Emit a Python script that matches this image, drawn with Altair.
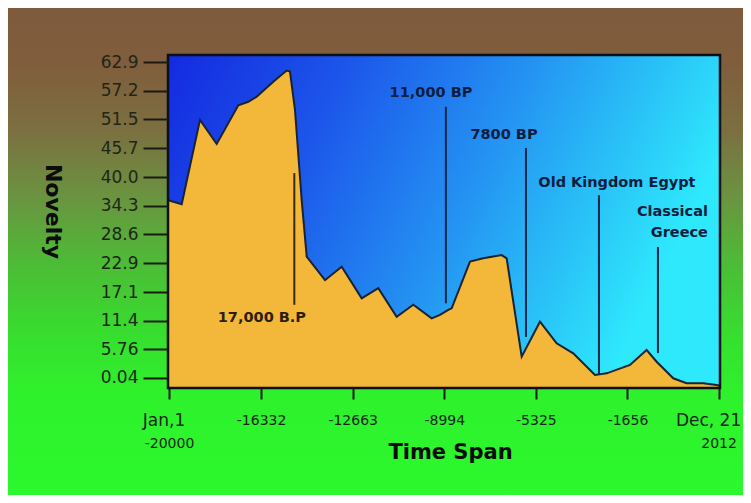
import altair as alt
import pandas as pd

# ---------------- data ----------------
years = [-20050, -19511, -18778, -18110, -17244, -16844, -16508, -15843, -15306,
         -15174, -14974, -14705, -14505, -13772, -13103, -12302, -11637, -10901,
         -10236, -9499, -9166, -8834, -8698, -7965, -7432, -6696, -6495, -5894,
         -5162, -4493, -3828, -2959, -2490, -1557, -889, -488, 178, 713, 1379,
         1915, 2045]
novelty = [35.4, 34.6, 51.4, 46.6, 54.3, 55.0, 56.0, 59.0, 61.2,
           61.0, 53.4, 35.4, 24.2, 19.5, 22.2, 15.9, 17.9, 12.2,
           14.6, 11.9, 12.6, 13.6, 13.9, 23.2, 23.85, 24.5, 23.85, 4.28,
           11.24, 6.94, 4.95, 0.64, 0.97, 2.63, 5.61, 3.28, -0.02, -1.0, -1.0,
           -1.35, -1.5]

x_ticks = [-20000, -16332, -12663, -8994, -5325, -1656, 2012]
x_tick_top = ["Jan,1", "-16332", "-12663", "-8994", "-5325", "-1656", "Dec, 21"]
x_tick_second = ["-20000", "", "", "", "", "", "2012"]

y_ticks = [0.04, 5.76, 11.4, 17.1, 22.9, 28.6, 34.3, 40.0, 45.7, 51.5, 57.2, 62.9]
y_tick_labels = ["0.04", "5.76", "11.4", "17.1", "22.9", "28.6", "34.3", "40.0",
                 "45.7", "51.5", "57.2", "62.9"]

rule_x = [-15000, -8930, -5722, -2799, -436]
rule_top = [40.8, 54.0, 45.8, 36.4, 26.1]
rule_bottom = [14.6, 14.9, 8.2, 0.64, 5.0]
rule_color = ["#3a2a12", "#10264a", "#10264a", "#10264a", "#10264a"]

ann_text = ["17,000 B.P", "11,000 BP", "7800 BP", "Old Kingdom Egypt", "Classical", "Greece"]
ann_x = [-16300, -9527, -6603, -2078, 1567, 1567]
ann_y = [12.0, 56.7, 48.4, 38.8, 33.06, 28.9]
ann_align = ["center", "center", "center", "center", "right", "right"]
ann_color = ["#2a1e0c", "#0c1d40", "#0c1d40", "#0c1d40", "#0c1d40", "#0c1d40"]

X_DOMAIN = [-20060, 2050]
Y_DOMAIN = [-1.95, 64.3]
W, H = 552, 333
PAD = {"left": 160, "top": 47, "right": 23, "bottom": 107}

# ---------------- tables ----------------
curve = pd.DataFrame({"year": years, "novelty": novelty})
rules = pd.DataFrame({"year": rule_x, "novelty": rule_top, "bottom": rule_bottom, "c": rule_color})
anns = pd.DataFrame({"year": ann_x, "novelty": ann_y, "t": ann_text, "a": ann_align, "c": ann_color})
second = pd.DataFrame({"year": x_ticks, "t": x_tick_second})
second = second[second["t"] != ""].reset_index(drop=True)

def chain(vals, labels, default):
    expr = default
    for v, l in reversed(list(zip(vals, labels))):
        expr = f"abs(datum.value - ({v})) < 1e-6 ? '{l}' : " + expr
    return expr

x_label_expr = chain(x_ticks, x_tick_top, "''")
y_label_expr = chain(y_ticks, y_tick_labels, "''")

xscale = alt.Scale(domain=X_DOMAIN, nice=False, zero=False)
yscale = alt.Scale(domain=Y_DOMAIN, nice=False, zero=False)

first_x, last_x = x_ticks[0], x_ticks[-1]
xaxis = alt.Axis(
    values=x_ticks, labelExpr=x_label_expr, title="Time Span", zindex=2,
    tickSize=11, tickWidth=2, tickColor="#1a1a14", domain=False, grid=False,
    labelFont="DejaVu Sans", labelColor="#17261a",
    labelFontSize={"condition": {"test": f"datum.value == {first_x} || datum.value == {last_x}", "value": 17}, "value": 14},
    labelOffset={"condition": [
        {"test": f"datum.value == {first_x}", "value": -6},
        {"test": f"datum.value == {last_x}", "value": -11},
    ], "value": 0},
    labelBaseline="middle", labelPadding=21, labelFlush=False, labelOverlap=False,
    titleFont="DejaVu Sans", titleFontWeight="bold", titleFontSize=21, titleColor="#0c0c0c",
    titleX=282, titleY=64, titleAlign="center", titleBaseline="middle",
)
yaxis = alt.Axis(
    values=y_ticks, labelExpr=y_label_expr, title="Novelty", zindex=2,
    tickSize=25, tickWidth=2, tickColor="#1a1a14", domain=False, grid=False,
    labelFont="DejaVu Sans", labelFontSize=17, labelColor="#1e2618",
    labelPadding=5, labelFlush=False, labelOverlap=False, labelBaseline="middle",
    titleFont="DejaVu Sans", titleFontWeight="bold", titleFontSize=22, titleColor="#0c0c0c",
    titleAngle=90, titleX=-116, titleY=156, titleAlign="center", titleBaseline="middle",
)

X = alt.X("year:Q", scale=xscale, axis=xaxis)
Y = alt.Y("novelty:Q", scale=yscale, axis=yaxis)

one = alt.Data(values=[{}])

page_bg = alt.Chart(one).mark_rect(
    fill=alt.Gradient(
        gradient="linear", x1=0, x2=0, y1=0, y2=1,
        stops=[
            alt.GradientStop(offset=0.0, color="#7e5b3e"),
            alt.GradientStop(offset=0.11, color="#805d3c"),
            alt.GradientStop(offset=0.25, color="#7c6f40"),
            alt.GradientStop(offset=0.39, color="#6a9440"),
            alt.GradientStop(offset=0.53, color="#4cbd36"),
            alt.GradientStop(offset=0.68, color="#36e02e"),
            alt.GradientStop(offset=0.80, color="#2ef22c"),
            alt.GradientStop(offset=1.0, color="#2cf82c"),
        ],
    )
).encode(x=alt.value(-PAD["left"]), x2=alt.value(W + PAD["right"]),
         y=alt.value(-PAD["top"]), y2=alt.value(H + PAD["bottom"]))

plot_bg = alt.Chart(one).mark_rect(
    fill=alt.Gradient(
        gradient="linear", x1=0, x2=1, y1=0, y2=0.3,
        stops=[
            alt.GradientStop(offset=0.0, color="#142ae0"),
            alt.GradientStop(offset=0.3, color="#1c55ea"),
            alt.GradientStop(offset=0.62, color="#2494f2"),
            alt.GradientStop(offset=1.0, color="#2ee8fc"),
        ],
    )
).encode(x=alt.value(0), x2=alt.value(W), y=alt.value(0), y2=alt.value(H))

area = alt.Chart(curve).mark_area(
    color="#f3b83a", opacity=1, fillOpacity=1,
    line={"color": "#1b2230", "strokeWidth": 2}
).encode(x=X, y=Y, y2=alt.datum(Y_DOMAIN[0]))

rule_layer = alt.Chart(rules).mark_rule(strokeWidth=2).encode(
    x=X, y=Y, y2="bottom:Q", color=alt.Color("c:N", scale=None),
)

text_layers = []
for al in ["center", "right"]:
    text_layers.append(
        alt.Chart(anns[anns["a"] == al].reset_index(drop=True)).mark_text(
            align=al, baseline="middle", font="DejaVu Sans", fontWeight="bold", fontSize=14.5
        ).encode(x=X, y=Y, text="t:N", color=alt.Color("c:N", scale=None))
    )

second_line = alt.Chart(second).mark_text(
    align="center", baseline="middle", font="DejaVu Sans", fontSize=14, color="#17261a"
).encode(x=X, y=alt.value(389), text="t:N")

border = alt.Chart(one).mark_rect(
    fill=None, stroke="#0b0f1a", strokeWidth=2.5
).encode(x=alt.value(0), x2=alt.value(W), y=alt.value(0), y2=alt.value(H))

chart = alt.layer(
    page_bg, plot_bg, area, rule_layer, *text_layers, second_line, border
).properties(
    width=W, height=H,
    autosize=alt.AutoSizeParams(type="none"),
    padding=PAD,
).configure_view(stroke=None)

chart.save("out.html", embed_options={"renderer": "svg", "actions": False})
